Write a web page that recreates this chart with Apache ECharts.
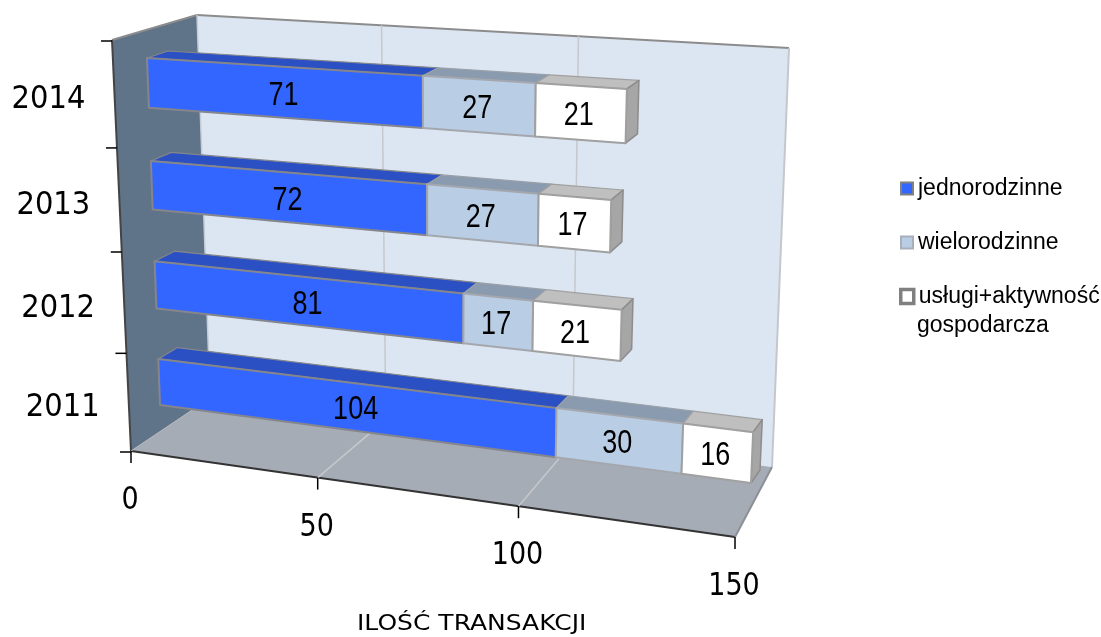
<!DOCTYPE html>
<html><head><meta charset="utf-8">
<style>html,body{margin:0;padding:0;background:#fff}#c{width:1101px;height:637px}</style>
<script src="https://cdn.jsdelivr.net/npm/echarts@6/dist/echarts.min.js"></script>
</head><body><div id="c"></div>
<script>
const categories = ['2011','2012','2013','2014'];
const jednorodzinne = [104,81,72,71];
const wielorodzinne = [30,17,27,27];
const uslugi = [16,21,17,21];
const xTicks = [0,50,100,150];
const seriesNames = ['jednorodzinne','wielorodzinne','usługi+aktywność gospodarcza'];

const W=1101,H=637,BAR=0.48;
function quad(p){const [x0,y0]=p[0],[x1,y1]=p[1],[x2,y2]=p[2],[x3,y3]=p[3];
  const dx1=x1-x2,dx2=x3-x2,sx=x0-x1+x2-x3,dy1=y1-y2,dy2=y3-y2,sy=y0-y1+y2-y3,den=dx1*dy2-dx2*dy1;
  const g=(sx*dy2-dx2*sy)/den,h=(dx1*sy-sx*dy1)/den;
  const a=x1-x0+g*x1,b=x3-x0+h*x3,d=y1-y0+g*y1,e=y3-y0+h*y3;
  return (s,t)=>{const w=g*s+h*t+1;return [(a*s+b*t+x0)/w,(d*s+e*t+y0)/w];};}
// projection of the flat grid onto the perspective box
const boxFront=quad([[112,40],[751,80],[735,537],[131,451]]);
const boxBack =quad([[197,15],[789,48],[772,467],[210,398]]);
const barFront=quad([[147,58],[767,98],[751,483],[160,405]]);
const barBack =quad([[168,51],[777,89],[760,470],[179,393]]);
const edge=(1-BAR)/8, barT=t=>(t-edge)/(1-2*edge);
const fr=p=>[p[0]/W,p[1]/H];
const poly=(pts,fill,stroke,lw)=>({type:'polygon',shape:{points:pts},style:{fill:fill,stroke:stroke||null,lineWidth:lw||0,lineJoin:'round'}});
const line=(a,b,stroke,lw)=>({type:'line',shape:{x1:a[0],y1:a[1],x2:b[0],y2:b[1]},style:{stroke:stroke,lineWidth:lw}});
const txt=(x,y,text,font,sy)=>({type:'text',x:x,y:y,scaleY:sy||1,style:{text:text,fill:'#000',font:font,align:'center',verticalAlign:'middle'}});

function renderFrame(){
  const bf=(s,t)=>boxFront(s,t), bb=(s,t)=>boxBack(s,t);
  return {type:'group',children:[
    poly([bb(0,0),bb(1,0),bb(1,1),bb(0,1)],'#DCE6F2'),
    poly([bf(0,1),bf(1,1),bb(1,1),bb(0,1)],'#A6ACB6'),
    poly([bf(0,0),bb(0,0),bb(0,1),bf(0,1)],'#5F7389'),
    line(bb(0,0),bb(1,0),'#8C8C8C',2),
    line(bf(0,0),bb(0,0),'#8C8C8C',2),
    line(bb(1,0),bb(1,1),'#C4C8CC',2),
    line(bb(0,0),bb(0,1),'#C4CCD6',1.5),
    line(bf(0,0),bf(0,1),'#444444',2),
    line(bf(0,1),bf(1,1),'#333333',2),
    line(bf(1,1),bb(1,1),'#8C9096',2),
    line(bf(0,1),bb(0,1),'#B4B8BE',1)
  ]};
}
function renderX(params,api){
  const v=api.value(0), s=fr(api.coord([v,0]))[0], a=boxFront(s,1), b=boxBack(s,1), c=boxBack(s,0), kids=[];
  if(v>0&&v<150){kids.push(line(a,b,'#C6C8CC',1.5),line(b,c,'#C6C8CC',1.5));}
  kids.push(line(a,[a[0],a[1]+12],'#000',1.5));
  kids.push(txt(a[0]-1,a[1]+50,String(v),'27px "DejaVu Sans"',1.17));
  return {type:'group',children:kids};
}
function renderY(params,api){
  const i=api.value(0), c=api.coord([0,i]), band=api.size([0,1])[1];
  const t0=(c[1]-band/2)/H, t1=(c[1]+band/2)/H, tm=c[1]/H;
  const p=boxFront(0,tm), kids=[];
  const tick=t=>{const q=boxFront(0,t);return line([q[0]-11,q[1]+1],[q[0],q[1]+1],'#000',1.5);};
  kids.push(tick(t1));
  if(i===categories.length-1)kids.push(tick(t0));
  kids.push(txt(p[0]-66,p[1]+6,categories[i],'29px "DejaVu Sans"',1.13));
  return {type:'group',children:kids};
}
function barRenderer(style,last){
  return function(params,api){
    const i=api.value(1), v0=api.value(0), v1=api.value(2);
    const c0=api.coord([v0,i]), c1=api.coord([v1,i]), h=api.size([0,1])[1]*BAR/2;
    const s0=c0[0]/W, s1=c1[0]/W, t0=barT((c0[1]-h)/H), t1=barT((c0[1]+h)/H);
    const f=[barFront(s0,t0),barFront(s1,t0),barFront(s1,t1),barFront(s0,t1)];
    const bk=[barBack(s0,t0),barBack(s1,t0),barBack(s1,t1)];
    const kids=[poly([f[0],f[1],bk[1],bk[0]],style.top,style.topEdge,1.2)];
    if(last)kids.push(poly([f[1],bk[1],bk[2],f[2]],'#A6A6A6','#8C8C8C',1.5));
    kids.push(poly(f,style.front,style.edge,2));
    const cx=(f[0][0]+f[1][0]+f[2][0]+f[3][0])/4, cy=(f[0][1]+f[1][1]+f[2][1]+f[3][1])/4;
    kids.push(txt(cx-2,cy+3,String(v1-v0),'27px "Liberation Sans"',1.22));
    return {type:'group',children:kids};
  };
}
const data1=categories.map((c,i)=>[0,i,jednorodzinne[i]]);
const data2=categories.map((c,i)=>[jednorodzinne[i],i,jednorodzinne[i]+wielorodzinne[i]]);
const data3=categories.map((c,i)=>[jednorodzinne[i]+wielorodzinne[i],i,jednorodzinne[i]+wielorodzinne[i]+uslugi[i]]);
const base={type:'custom',silent:true,animation:false,clip:false};
const legendBase={orient:'vertical',padding:0,selectedMode:false,itemGap:2,textStyle:{fontFamily:'Liberation Sans',fontSize:23,color:'#000'}};
const chart=echarts.init(document.getElementById('c'),null,{renderer:'canvas'});
chart.setOption({
  animation:false,backgroundColor:'#fff',
  grid:{left:0,top:0,width:W,height:H,show:false},
  xAxis:{type:'value',min:0,max:150,interval:50,show:false},
  yAxis:{type:'category',data:categories,show:false},
  legend:[
    Object.assign({},legendBase,{left:900,top:177,itemWidth:12,itemHeight:12,data:[{name:seriesNames[0],icon:'rect',itemStyle:{color:'#3366FF',borderColor:'#808080',borderWidth:2}}]}),
    Object.assign({},legendBase,{left:900,top:231,itemWidth:12,itemHeight:12,data:[{name:seriesNames[1],icon:'rect',itemStyle:{color:'#B9CDE5',borderColor:'#A8B0BC',borderWidth:2}}]}),
    Object.assign({},legendBase,{left:899,top:285,itemGap:0,itemWidth:13,itemHeight:14,formatter:()=>'usługi+aktywność',data:[{name:seriesNames[2],icon:'rect',itemStyle:{color:'#FFFFFF',borderColor:'#808080',borderWidth:3.5}}]})
  ],
  graphic:[
    {type:'text',left:917,top:314,style:{text:'gospodarcza',font:'23px "Liberation Sans"',fill:'#000'}},
    {type:'text',x:357,y:614,scaleY:0.82,style:{text:'ILOŚĆ TRANSAKCJI',font:'25px "DejaVu Sans"',fill:'#000'}}
  ],
  series:[
    Object.assign({},base,{name:'frame',data:[[0,0]],encode:{x:0,y:1},renderItem:renderFrame,z:1}),
    Object.assign({},base,{name:'xticks',data:xTicks.map(v=>[v,0]),encode:{x:0,y:1},renderItem:renderX,z:2}),
    Object.assign({},base,{name:'yticks',data:categories.map((c,i)=>[i,i]),encode:{x:0,y:1},renderItem:renderY,z:2}),
    Object.assign({},base,{name:seriesNames[0],data:data1,encode:{x:[0,2],y:1},itemStyle:{color:'#3366FF'},z:3,
      renderItem:barRenderer({front:'#3366FF',top:'#2A50C4',edge:'#85868C',topEdge:'#85868C'},false)}),
    Object.assign({},base,{name:seriesNames[1],data:data2,encode:{x:[0,2],y:1},itemStyle:{color:'#B9CDE5'},z:3,
      renderItem:barRenderer({front:'#B9CDE5',top:'#8A9BAF',edge:'#A4A8AE',topEdge:'#9AA0A8'},false)}),
    Object.assign({},base,{name:seriesNames[2],data:data3,encode:{x:[0,2],y:1},itemStyle:{color:'#FFFFFF'},z:3,
      renderItem:barRenderer({front:'#FFFFFF',top:'#BFBFBF',edge:'#A0A0A0',topEdge:'#A0A0A0'},true)})
  ]
});
</script></body></html>
